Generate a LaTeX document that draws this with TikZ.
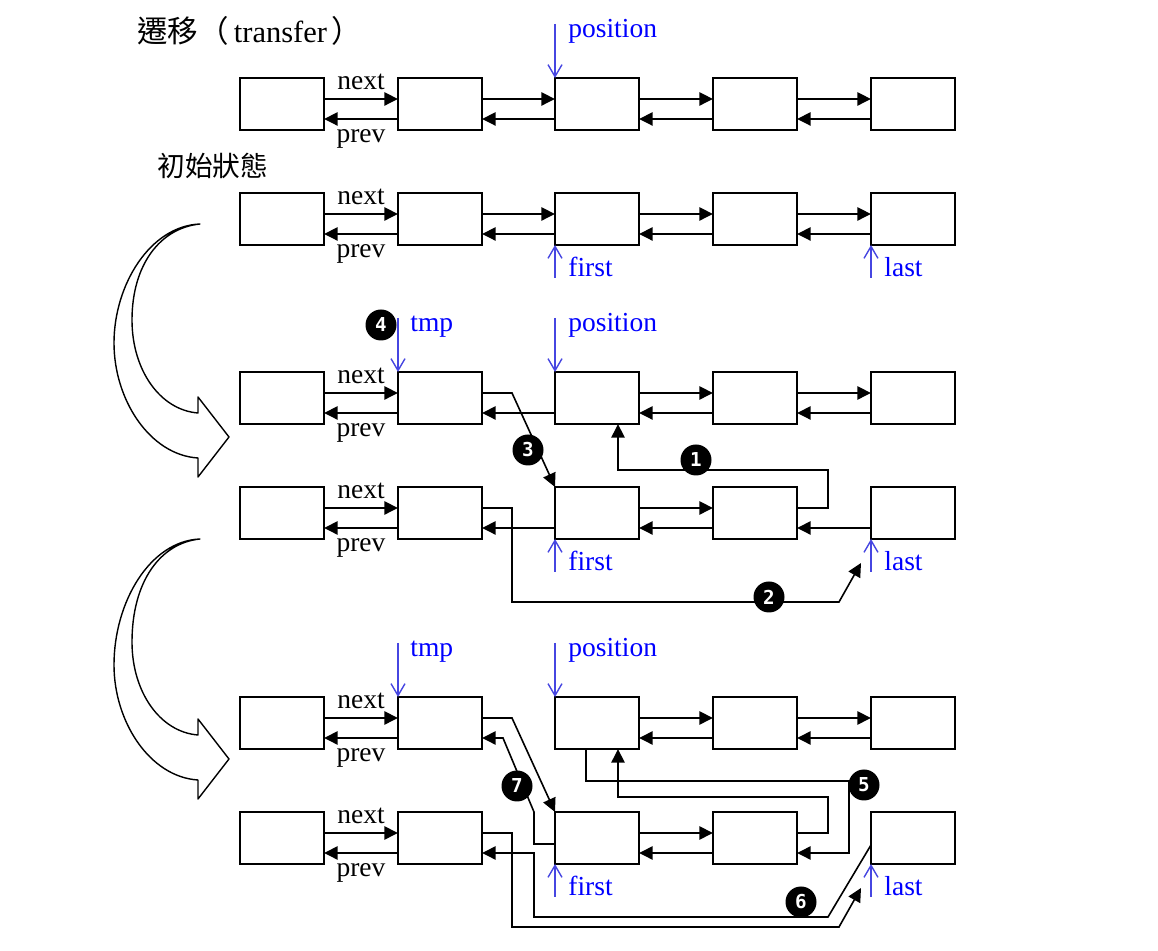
\documentclass[tikz,border=0pt]{standalone}
\usepackage{fontspec}
\setmainfont{Liberation Serif}
\newfontfamily\cjk{Noto Sans CJK TC}
\newfontfamily\numfont{DejaVu Sans Mono}
\usetikzlibrary{arrows.meta,calc}
\definecolor{ptrcol}{RGB}{70,70,225}
\definecolor{lblcol}{RGB}{0,0,255}
\newcommand\mynext[2]{\draw[conn] ($(#1.east)+(0,-5)$) -- ($(#2.west)+(0,-5)$);}
\newcommand\myprev[2]{\draw[conn] ($(#2.west)+(0,15)$) -- ($(#1.east)+(0,15)$);}
\begin{document}
\begin{tikzpicture}[x=0.5pt,y=-0.5pt,
  box/.style={draw, line width=0.85pt, minimum width=42pt, minimum height=26pt, inner sep=0pt, outer sep=0pt},
  conn/.style={line width=0.8pt, -{Triangle[length=6.8pt,width=6.6pt]}},
  ptr/.style={ptrcol, line width=0.7pt, -{Straight Barb[length=6pt,width=7pt]}},
  lbl/.style={font=\fontsize{13.75}{16}\selectfont, inner sep=0pt, anchor=base},
  blbl/.style={lbl, text=lblcol, anchor=base west},
  num/.style={circle, fill=black, text=white, inner sep=0pt, minimum size=15.5pt, font=\numfont\bfseries\fontsize{9.6}{10}\selectfont},
  bigarrow/.style={draw, line width=0.7pt, fill=white, line join=round}
]
\useasboundingbox (0,0) rectangle (1158,951);

% title texts
\node[anchor=base west, inner sep=0pt] (title) at (137,43) {\fontsize{15.25}{18}\selectfont{\cjk 遷移（}\hspace{2.5pt}transfer\hspace{2pt}{\cjk ）}};
\node[anchor=west, inner sep=0pt, font=\cjk\fontsize{13.85}{16}\selectfont] (init) at (157,166) {初始狀態};

% boxes
\foreach \r/\y in {a/104,b/219,c/398,d/513,e/723,f/838}
  \foreach \c/\x in {1/282,2/440,3/597,4/755,5/913}
    \node[box] (\r\c) at (\x,\y) {};

% next / prev labels
\foreach \r in {a,b,c,d,e,f} {
  \node[lbl] (\r-nx) at ($(\r1.north east)!0.5!(\r2.north west)+(0,12)$) {next};
  \node[lbl] (\r-pv) at ($(\r1.south east)!0.5!(\r2.south west)+(0,13)$) {prev};
}

% row A and B: full chains
\foreach \r in {a,b} {
  \mynext{\r1}{\r2} \mynext{\r2}{\r3} \mynext{\r3}{\r4} \mynext{\r4}{\r5}
  \myprev{\r1}{\r2} \myprev{\r2}{\r3} \myprev{\r3}{\r4} \myprev{\r4}{\r5}
}
% row C
\mynext{c1}{c2} \mynext{c3}{c4} \mynext{c4}{c5}
\myprev{c1}{c2} \myprev{c2}{c3} \myprev{c3}{c4} \myprev{c4}{c5}
% row D
\mynext{d1}{d2} \mynext{d3}{d4}
\myprev{d1}{d2} \myprev{d2}{d3} \myprev{d3}{d4} \myprev{d4}{d5}
% row E
\mynext{e1}{e2} \mynext{e3}{e4} \mynext{e4}{e5}
\myprev{e1}{e2} \myprev{e3}{e4} \myprev{e4}{e5}
% row F
\mynext{f1}{f2} \mynext{f3}{f4}
\myprev{f1}{f2} \myprev{f3}{f4}

% pointers
\draw[ptr] ($(a3.north west)+(0,-54)$) -- (a3.north west);
\node[blbl] (a-pos) at ($(a3.north west)+(13,-40)$) {position};

\draw[ptr] ($(b3.south west)+(0,33)$) -- (b3.south west);
\node[blbl] (b-first) at ($(b3.south west)+(13,32)$) {first};
\draw[ptr] ($(b5.south west)+(0,33)$) -- (b5.south west);
\node[blbl] (b-last) at ($(b5.south west)+(13,32)$) {last};

\draw[ptr] ($(c2.north west)+(0,-54)$) -- (c2.north west);
\node[blbl] (c-tmp) at ($(c2.north west)+(12,-40)$) {tmp};
\draw[ptr] ($(c3.north west)+(0,-54)$) -- (c3.north west);
\node[blbl] (c-pos) at ($(c3.north west)+(13,-40)$) {position};

\draw[ptr] ($(d3.south west)+(0,33)$) -- (d3.south west);
\node[blbl] (d-first) at ($(d3.south west)+(13,32)$) {first};
\draw[ptr] ($(d5.south west)+(0,33)$) -- (d5.south west);
\node[blbl] (d-last) at ($(d5.south west)+(13,32)$) {last};

\draw[ptr] ($(e2.north west)+(0,-54)$) -- (e2.north west);
\node[blbl] (e-tmp) at ($(e2.north west)+(12,-40)$) {tmp};
\draw[ptr] ($(e3.north west)+(0,-54)$) -- (e3.north west);
\node[blbl] (e-pos) at ($(e3.north west)+(13,-40)$) {position};

\draw[ptr] ($(f3.south west)+(0,33)$) -- (f3.south west);
\node[blbl] (f-first) at ($(f3.south west)+(13,32)$) {first};
\draw[ptr] ($(f5.south west)+(0,33)$) -- (f5.south west);
\node[blbl] (f-last) at ($(f5.south west)+(13,32)$) {last};

% --- step 1-4 connectors
\draw[conn] ($(c2.east)+(0,-5)$) -- ++(30,0) -- (d3.north west);
\draw[conn] ($(d4.east)+(0,-5)$) -- ++(31,0) |- ($(c3.south)+(21,46)$) -- ($(c3.south)+(21,0)$);
\coordinate (d2end) at ($(d5.south west)+(-10,24)$);
\draw[conn] ($(d2.east)+(0,-5)$) -- ++(30,0) |- ($(d2end)+(-22,39)$) -- (d2end);
\node[num] (n4) at (381,325) {4};
\node[num] (n3) at (528,450) {3};
\node[num] (n1) at (696,460) {1};
\node[num] (n2) at (769,597) {2};

% --- step 5-7 connectors
\draw[conn] ($(e2.east)+(0,-5)$) -- ++(30,0) -- (f3.north west);
\draw[conn] ($(f3.west)+(0,6)$) -- ++(-21,0) -- ++(0,-32) -- ($(e2.east)+(21,15)$) -- ($(e2.east)+(0,15)$);
\draw[conn] ($(e3.south)+(-11,0)$) |- ($(f4.east)+(52,-57)$) |- ($(f4.east)+(0,15)$);
\draw[conn] ($(f4.east)+(0,-5)$) -- ++(31,0) |- ($(e3.south)+(21,48)$) -- ($(e3.south)+(21,0)$);
\coordinate (f2end) at ($(f5.south west)+(-10,24)$);
\draw[conn] ($(f5.west)+(0,7)$) -- ($(f5.west)+(-43,79)$) -- ($(f3.west)+(-21,79)$) |- ($(f2.east)+(0,15)$);
\draw[conn] ($(f2.east)+(0,-5)$) -- ++(30,0) |- ($(f2end)+(-22,39)$) -- (f2end);
\node[num] (n7) at (517,786) {7};
\node[num] (n5) at (864,785) {5};
\node[num] (n6) at (801,902) {6};

% big curved arrows
\draw[bigarrow] (200,224) .. controls (150,226) and (114,285) .. (114,343)
  .. controls (114,400) and (150,455) .. (198,458) -- (198,477) -- (229,437) -- (198,397) -- (198,413)
  .. controls (160,410) and (132,370) .. (132,320) .. controls (132,265) and (160,228) .. (200,224) -- cycle;
\draw[bigarrow] (200,539) .. controls (150,541) and (114,602) .. (114,665)
  .. controls (114,722) and (150,777) .. (198,780) -- (198,799) -- (229,759) -- (198,719) -- (198,735)
  .. controls (160,732) and (132,692) .. (132,642) .. controls (132,582) and (160,543) .. (200,539) -- cycle;
\end{tikzpicture}
\end{document}
